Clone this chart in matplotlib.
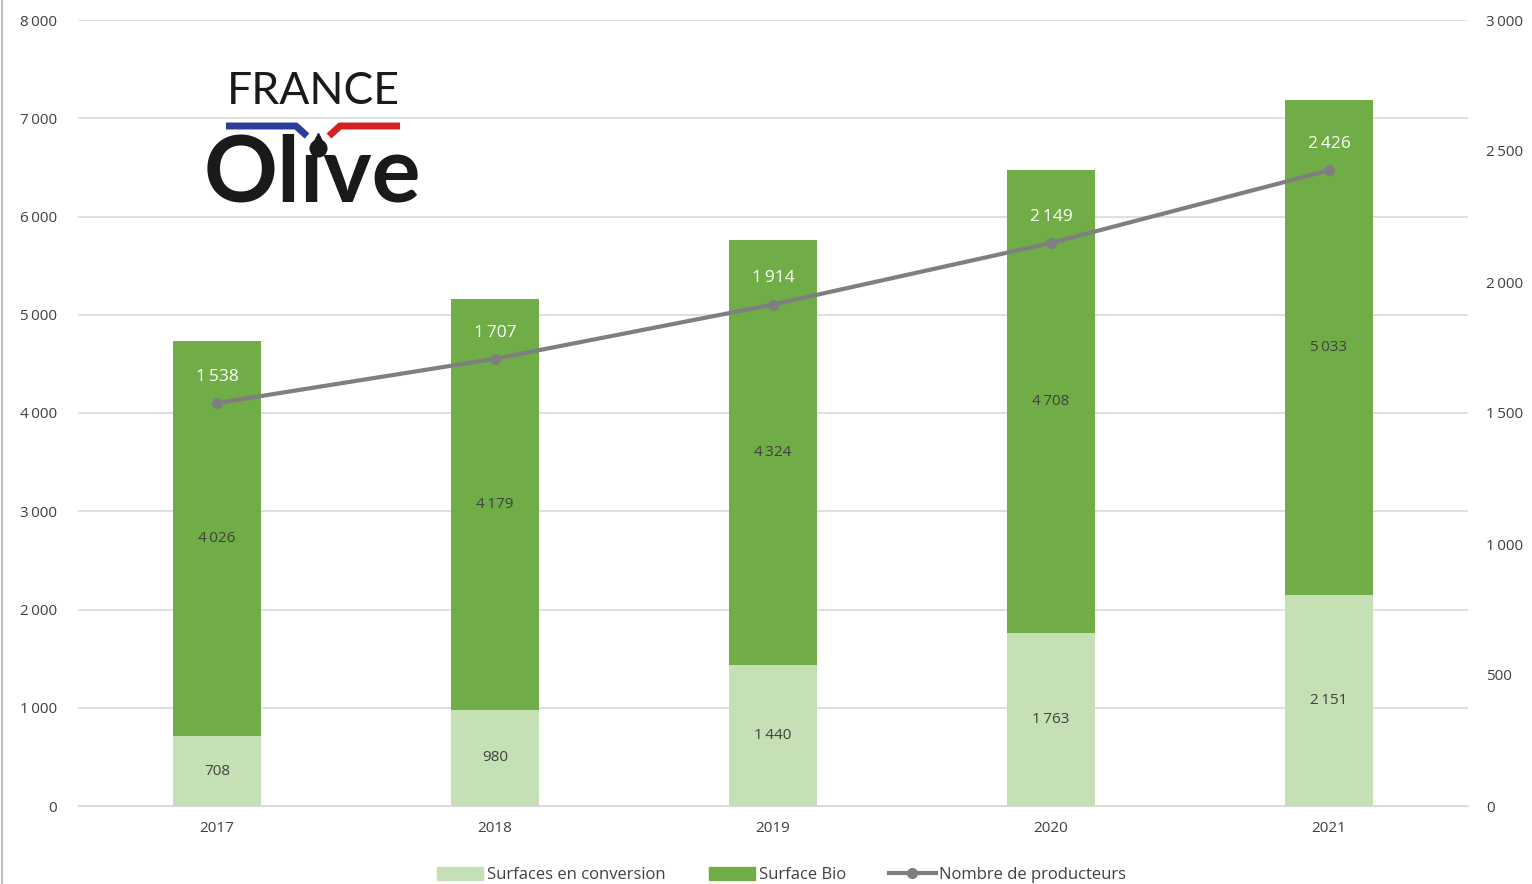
import numpy as np
import matplotlib.pyplot as plt
from matplotlib.patches import Patch
from matplotlib.lines import Line2D

years = ['2017', '2018', '2019', '2020', '2021']
conversion = [708, 980, 1440, 1763, 2151]
bio = [4026, 4179, 4324, 4708, 5033]
producteurs = [1538, 1707, 1914, 2149, 2426]

light_green = '#c5e0b4'
dark_green = '#70ad47'
line_grey = '#7f7f7f'
txt = '#404040'

plt.rcParams['font.family'] = ['Open Sans', 'DejaVu Sans']


def fmt(v):
    return f'{v:,}'.replace(',', '\u2009')


fig = plt.figure(figsize=(15.32, 8.84), dpi=100)
ax = fig.add_axes([78 / 1532, 78 / 884, 1390 / 1532, 786 / 884])
x = np.arange(len(years))
w = 0.315

ax.bar(x, conversion, w, color=light_green, zorder=2)
ax.bar(x, bio, w, bottom=conversion, color=dark_green, zorder=2)

for i in range(len(years)):
    ax.text(x[i], conversion[i] / 2, fmt(conversion[i]), ha='center', va='center',
            fontsize=11, color=txt, zorder=5)
    ax.text(x[i], conversion[i] + bio[i] / 2, fmt(bio[i]), ha='center', va='center',
            fontsize=11, color=txt, zorder=5)

ax.set_xlim(-0.5, 4.5)
ax.set_ylim(0, 8000)
ax.set_yticks(np.arange(0, 8001, 1000))
ax.set_yticklabels([fmt(v) for v in range(0, 8001, 1000)])
ax.set_xticks(x)
ax.set_xticklabels(years)
ax.grid(axis='y', color='#d9d9d9', linewidth=1.2, zorder=0)
ax.set_axisbelow(True)
for s in ax.spines.values():
    s.set_visible(False)
ax.spines['bottom'].set_visible(True)
ax.spines['bottom'].set_color('#d9d9d9')
ax.tick_params(length=0, labelsize=11, labelcolor=txt)
ax.tick_params(axis='y', pad=15)
ax.tick_params(axis='x', pad=11)

ax2 = ax.twinx()
ax2.set_ylim(0, 3000)
ax2.set_yticks(np.arange(0, 3001, 500))
ax2.set_yticklabels([fmt(v) for v in range(0, 3001, 500)])
ax2.plot(x, producteurs, color=line_grey, linewidth=3, marker='o', markersize=7, zorder=4)
for i in range(len(years)):
    ax2.text(x[i], producteurs[i] + 100, fmt(producteurs[i]), ha='center', va='center',
             fontsize=12.5, color='white', zorder=5)
for s in ax2.spines.values():
    s.set_visible(False)
ax2.tick_params(length=0, labelsize=11, labelcolor=txt, pad=13)

# legend
handles = [Patch(color=light_green, label='Surfaces en conversion'),
           Patch(color=dark_green, label='Surface Bio'),
           Line2D([0], [0], color=line_grey, linewidth=3, marker='o', markersize=7,
                  label='Nombre de producteurs')]
fig.legend(handles=handles, loc='center', bbox_to_anchor=(0.51, 0.01), ncol=3,
           frameon=False, fontsize=12, handlelength=2.8, handleheight=0.8,
           columnspacing=2.6, handletextpad=0.2, labelcolor=txt)

# left border of the image
fig.add_artist(Line2D([0.0015, 0.0015], [0, 1], color='#bfbfbf', linewidth=1.5))

# logo: text, flag strokes and an olive-oil drop as the dot of the i
logo_font = ['Lato', 'DejaVu Sans']
fig.text(313 / 1532, 1 - 91 / 884, 'FRANCE', ha='center', va='center', fontsize=32,
         color='#1a1a1a', family=logo_font)
fig.text(312 / 1532, 1 - 176 / 884, 'Ol\u0131ve', ha='center', va='center', fontsize=66,
         color='#1a1a1a', family=logo_font, fontweight='bold')
fig.add_artist(Line2D(np.array([226, 296, 307]) / 1532, 1 - np.array([126, 126, 136]) / 884,
                      color='#2a3d9c', linewidth=5, solid_capstyle='butt'))
fig.add_artist(Line2D(np.array([329, 340, 400]) / 1532, 1 - np.array([136, 126, 126]) / 884,
                      color='#d42020', linewidth=5, solid_capstyle='butt'))
fig.add_artist(Line2D([318 / 1532], [1 - 148 / 884], marker='o', markersize=12,
                      color='#1a1a1a', linestyle='none'))
fig.add_artist(Line2D([318 / 1532], [1 - 139 / 884], marker='^', markersize=9,
                      color='#1a1a1a', linestyle='none'))

fig.savefig('out.png', dpi=100)
